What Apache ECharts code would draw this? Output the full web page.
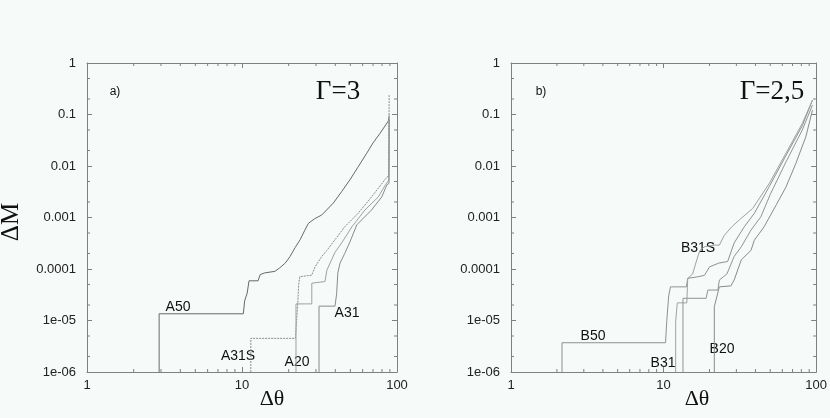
<!DOCTYPE html>
<html>
<head>
<meta charset="utf-8">
<script src="https://cdn.jsdelivr.net/npm/echarts@6/dist/echarts.min.js"></script>
<style>
  html, body { margin: 0; padding: 0; background: #f6faf8; }
  #chart_1 { width: 830px; height: 418px; }
</style>
</head>
<body>
<div id="chart_1"></div>
<script>
// tick labels
var xTickLabels = ['1', '10', '100'];
var yTickLabels = ['1e-06', '1e-05', '0.0001', '0.001', '0.01', '0.1', '1'];
var xMinorTicks = [2, 3, 4, 5, 6, 7, 8, 9, 20, 30, 40, 50, 60, 70, 80, 90];
var yMinorTicks = [2e-6, 5e-6, 2e-5, 5e-5, 2e-4, 5e-4, 2e-3, 5e-3, 0.02, 0.05, 0.2, 0.5];

// panel a) Gamma=3   [dtheta, dM]
var curveA50 = [[2.92, 1e-6], [2.92, 1.35e-5], [10.2, 1.35e-5], [10.4, 2.4e-5], [10.8, 3.4e-5], [11.1, 5.9e-5],
    [12.7, 5.9e-5], [13.1, 7.8e-5], [14, 8.4e-5], [16.3, 9e-5], [17.5, 1.05e-4], [19, 1.3e-4], [20.4, 1.74e-4],
    [22, 2.6e-4], [23.7, 3.7e-4], [25.3, 5.5e-4], [26.8, 7.7e-4], [29.5, 9.5e-4], [32.7, 1.12e-3], [38.8, 1.9e-3],
    [44, 3.2e-3], [49.7, 5.4e-3], [56, 9.5e-3], [63.8, 0.0177], [70, 0.028], [77.7, 0.043], [88, 0.075], [88.8, 0.09]];
var curveA31S = [[11.4, 1e-6], [11.4, 4.5e-6], [22.1, 4.5e-6], [22.9, 2.1e-5], [23.2, 5e-5], [23.6, 7.1e-5],
    [28.2, 7.6e-5], [29.6, 1.1e-4], [32.7, 1.75e-4], [35.3, 2.3e-4], [39.8, 3.7e-4], [46, 6.6e-4], [56, 1.2e-3],
    [68.5, 2.5e-3], [83.8, 5.5e-3], [88.5, 6.6e-3], [89, 0.24]];
var curveA20 = [[22.3, 1e-6], [22.3, 2.1e-5], [28.2, 2.1e-5], [28.2, 5.3e-5], [34.3, 5.7e-5], [35.3, 9.5e-5],
    [37.8, 1.5e-4], [39.8, 2.1e-4], [43.9, 3.2e-4], [51.2, 6.6e-4], [62.1, 1.4e-3], [75.7, 2.5e-3], [83.8, 4.2e-3],
    [88.5, 5.3e-3], [89, 0.1]];
var curveA31 = [[31.4, 1e-6], [31.4, 1.9e-5], [39.8, 1.9e-5], [40.8, 3.3e-5], [41.5, 8.3e-5], [42.9, 1.3e-4],
    [46, 2e-4], [50, 3.5e-4], [55, 7.2e-4], [68.5, 1.4e-3], [79.7, 2.5e-3], [86, 4.3e-3], [88.8, 4.6e-3], [89, 0.08]];

// panel b) Gamma=2,5
var curveB50 = [[2.16, 1e-6], [2.16, 3.7e-6], [10.3, 3.7e-6], [10.5, 1e-5], [10.8, 3e-5], [11.1, 4.5e-5],
    [14.1, 4.5e-5], [14.4, 6.6e-5], [16.5, 7e-5], [18.5, 7.5e-5], [20, 1.1e-4], [23, 1.3e-4], [26.3, 1.4e-4],
    [29, 3.2e-4], [33.8, 6.6e-4], [39.3, 1.2e-3], [49.3, 4e-3], [63.4, 0.016], [81, 0.06], [94.6, 0.19]];
var curveB31 = [[12, 1e-6], [12, 9.5e-6], [12.3, 2.2e-5], [14.2, 2.2e-5], [14.4, 6.6e-5], [15.5, 8e-5],
    [16.5, 1.5e-4], [17.3, 2.3e-4], [18.5, 2.7e-4], [21.5, 2.9e-4], [23.2, 2.9e-4], [25, 4.5e-4], [28, 6.6e-4],
    [31.4, 9e-4], [38.4, 1.5e-3], [49.3, 4.6e-3], [63.4, 0.0177], [81.1, 0.067], [94.6, 0.19]];
var curveB31S = [[13.4, 1e-6], [13.4, 2.7e-5], [19, 2.7e-5], [19.5, 3.9e-5], [22.7, 3.9e-5], [23.2, 6.1e-5],
    [26, 8e-5], [29, 1.75e-4], [32.3, 2.7e-4], [37.4, 5.7e-4], [43.4, 1.03e-3], [50, 2.8e-3], [63.4, 0.012],
    [81.1, 0.05], [94.6, 0.153]];
var curveB20 = [[21.5, 1e-6], [21.5, 1.85e-5], [22.1, 2e-5], [23.2, 4.5e-5], [27.6, 4.7e-5], [29, 6.1e-5],
    [32.3, 1.5e-4], [37.4, 2.3e-4], [39.3, 3.6e-4], [45.6, 6.6e-4], [55, 1.8e-3], [63.4, 3.9e-3], [73.7, 0.0113],
    [85.6, 0.037], [94.6, 0.122]];

var frameColor = '#808080';
var labelFont = 'Liberation Sans';

function xAxisFor(grid, pos) {
    return {
        type: 'log', logBase: 10, min: 1, max: 100, gridIndex: grid, position: pos,
        axisLine: {show: true, lineStyle: {color: frameColor}},
        axisTick: {show: true, inside: true, length: 5, lineStyle: {color: frameColor}},
        axisLabel: {
            show: pos === 'bottom', margin: 7, color: '#222', fontFamily: labelFont, fontSize: 13,
            showMinLabel: true, showMaxLabel: true,
            formatter: function (v) { return xTickLabels[Math.round(Math.log10(v))]; }
        },
        splitLine: {show: false}
    };
}
function yAxisFor(grid, pos) {
    return {
        type: 'log', logBase: 10, min: 1e-6, max: 1, gridIndex: grid, position: pos,
        axisLine: {show: true, lineStyle: {color: frameColor}},
        axisTick: {show: true, inside: true, length: 5, lineStyle: {color: frameColor}},
        axisLabel: {
            show: pos === 'left', margin: 11, color: '#222', fontFamily: labelFont, fontSize: 13,
            showMinLabel: true, showMaxLabel: true,
            formatter: function (v) { return yTickLabels[Math.round(Math.log10(v)) + 6]; }
        },
        splitLine: {show: false}
    };
}

function curve(data, xi, yi, color, type) {
    return {
        type: 'line', data: data, xAxisIndex: xi, yAxisIndex: yi,
        showSymbol: false, symbol: 'none', clip: true,
        lineStyle: {color: color, width: 1, type: type || 'solid'}
    };
}

// minor ticks drawn on all four sides through the axis scales
function minorTicks(xi, yi) {
    var data = [];
    xMinorTicks.forEach(function (v) { data.push([v, 1e-6, 0]); });
    yMinorTicks.forEach(function (v) { data.push([1, v, 1]); });
    return {
        type: 'custom', xAxisIndex: xi, yAxisIndex: yi, data: data, silent: true, clip: false, z: 5,
        renderItem: function (params, api) {
            var style = {stroke: frameColor, lineWidth: 1};
            if (api.value(2) === 0) {
                var b = api.coord([api.value(0), 1e-6]);
                var t = api.coord([api.value(0), 1]);
                return {type: 'group', children: [
                    {type: 'line', shape: {x1: b[0], y1: b[1], x2: b[0], y2: b[1] - 3}, style: style},
                    {type: 'line', shape: {x1: t[0], y1: t[1], x2: t[0], y2: t[1] + 3}, style: style}
                ]};
            }
            var l = api.coord([1, api.value(1)]);
            var r = api.coord([100, api.value(1)]);
            return {type: 'group', children: [
                {type: 'line', shape: {x1: l[0], y1: l[1], x2: l[0] + 3, y2: l[1]}, style: style},
                {type: 'line', shape: {x1: r[0], y1: r[1], x2: r[0] - 3, y2: r[1]}, style: style}
            ]};
        }
    };
}

function txt(x, y, s, font, extra) {
    var o = {type: 'text', x: x, y: y, style: {text: s, font: font, fill: '#111', align: 'center', verticalAlign: 'middle'}};
    if (extra) { for (var k in extra) o[k] = extra[k]; }
    return o;
}

var lbl = '14px "Liberation Sans"';
var serif = '"Liberation Serif"';

var myChart = echarts.init(document.getElementById('chart_1'), null, {renderer: 'canvas'});
var option = {
    backgroundColor: '#f6faf8',
    animation: false,
    grid: [
        {left: 87, top: 63, width: 310, height: 309},
        {left: 511, top: 63, width: 306, height: 309}
    ],
    xAxis: [xAxisFor(0, 'bottom'), xAxisFor(0, 'top'), xAxisFor(1, 'bottom'), xAxisFor(1, 'top')],
    yAxis: [yAxisFor(0, 'left'), yAxisFor(0, 'right'), yAxisFor(1, 'left'), yAxisFor(1, 'right')],
    series: [
        curve(curveA50, 0, 0, '#686868'),
        curve(curveA31S, 0, 0, '#8c8c8c', [2, 1]),
        curve(curveA20, 0, 0, '#a0a0a0'),
        curve(curveA31, 0, 0, '#8a8a8a'),
        curve(curveB50, 2, 2, '#909090'),
        curve(curveB31, 2, 2, '#a0a0a0'),
        curve(curveB31S, 2, 2, '#939393'),
        curve(curveB20, 2, 2, '#8a8a8a'),
        minorTicks(0, 0),
        minorTicks(2, 2)
    ],
    graphic: [
        txt(11, 222, 'ΔM', '25px ' + serif, {rotation: Math.PI / 2}),
        txt(272, 399, 'Δθ', '22px ' + serif),
        txt(697, 399, 'Δθ', '22px ' + serif),
        txt(338, 92, 'Γ=3', '27px ' + serif),
        txt(772, 92, 'Γ=2,5', '27px ' + serif),
        txt(115, 92, 'a)', '12px "Liberation Sans"'),
        txt(541, 92, 'b)', '12px "Liberation Sans"'),
        txt(178, 307, 'A50', lbl),
        txt(238, 356, 'A31S', lbl),
        txt(297, 362, 'A20', lbl),
        txt(347, 313, 'A31', lbl),
        txt(593, 336, 'B50', lbl),
        txt(663, 363, 'B31', lbl),
        txt(722, 349, 'B20', lbl),
        txt(698, 248, 'B31S', lbl)
    ]
};
myChart.setOption(option);
</script>
</body>
</html>
